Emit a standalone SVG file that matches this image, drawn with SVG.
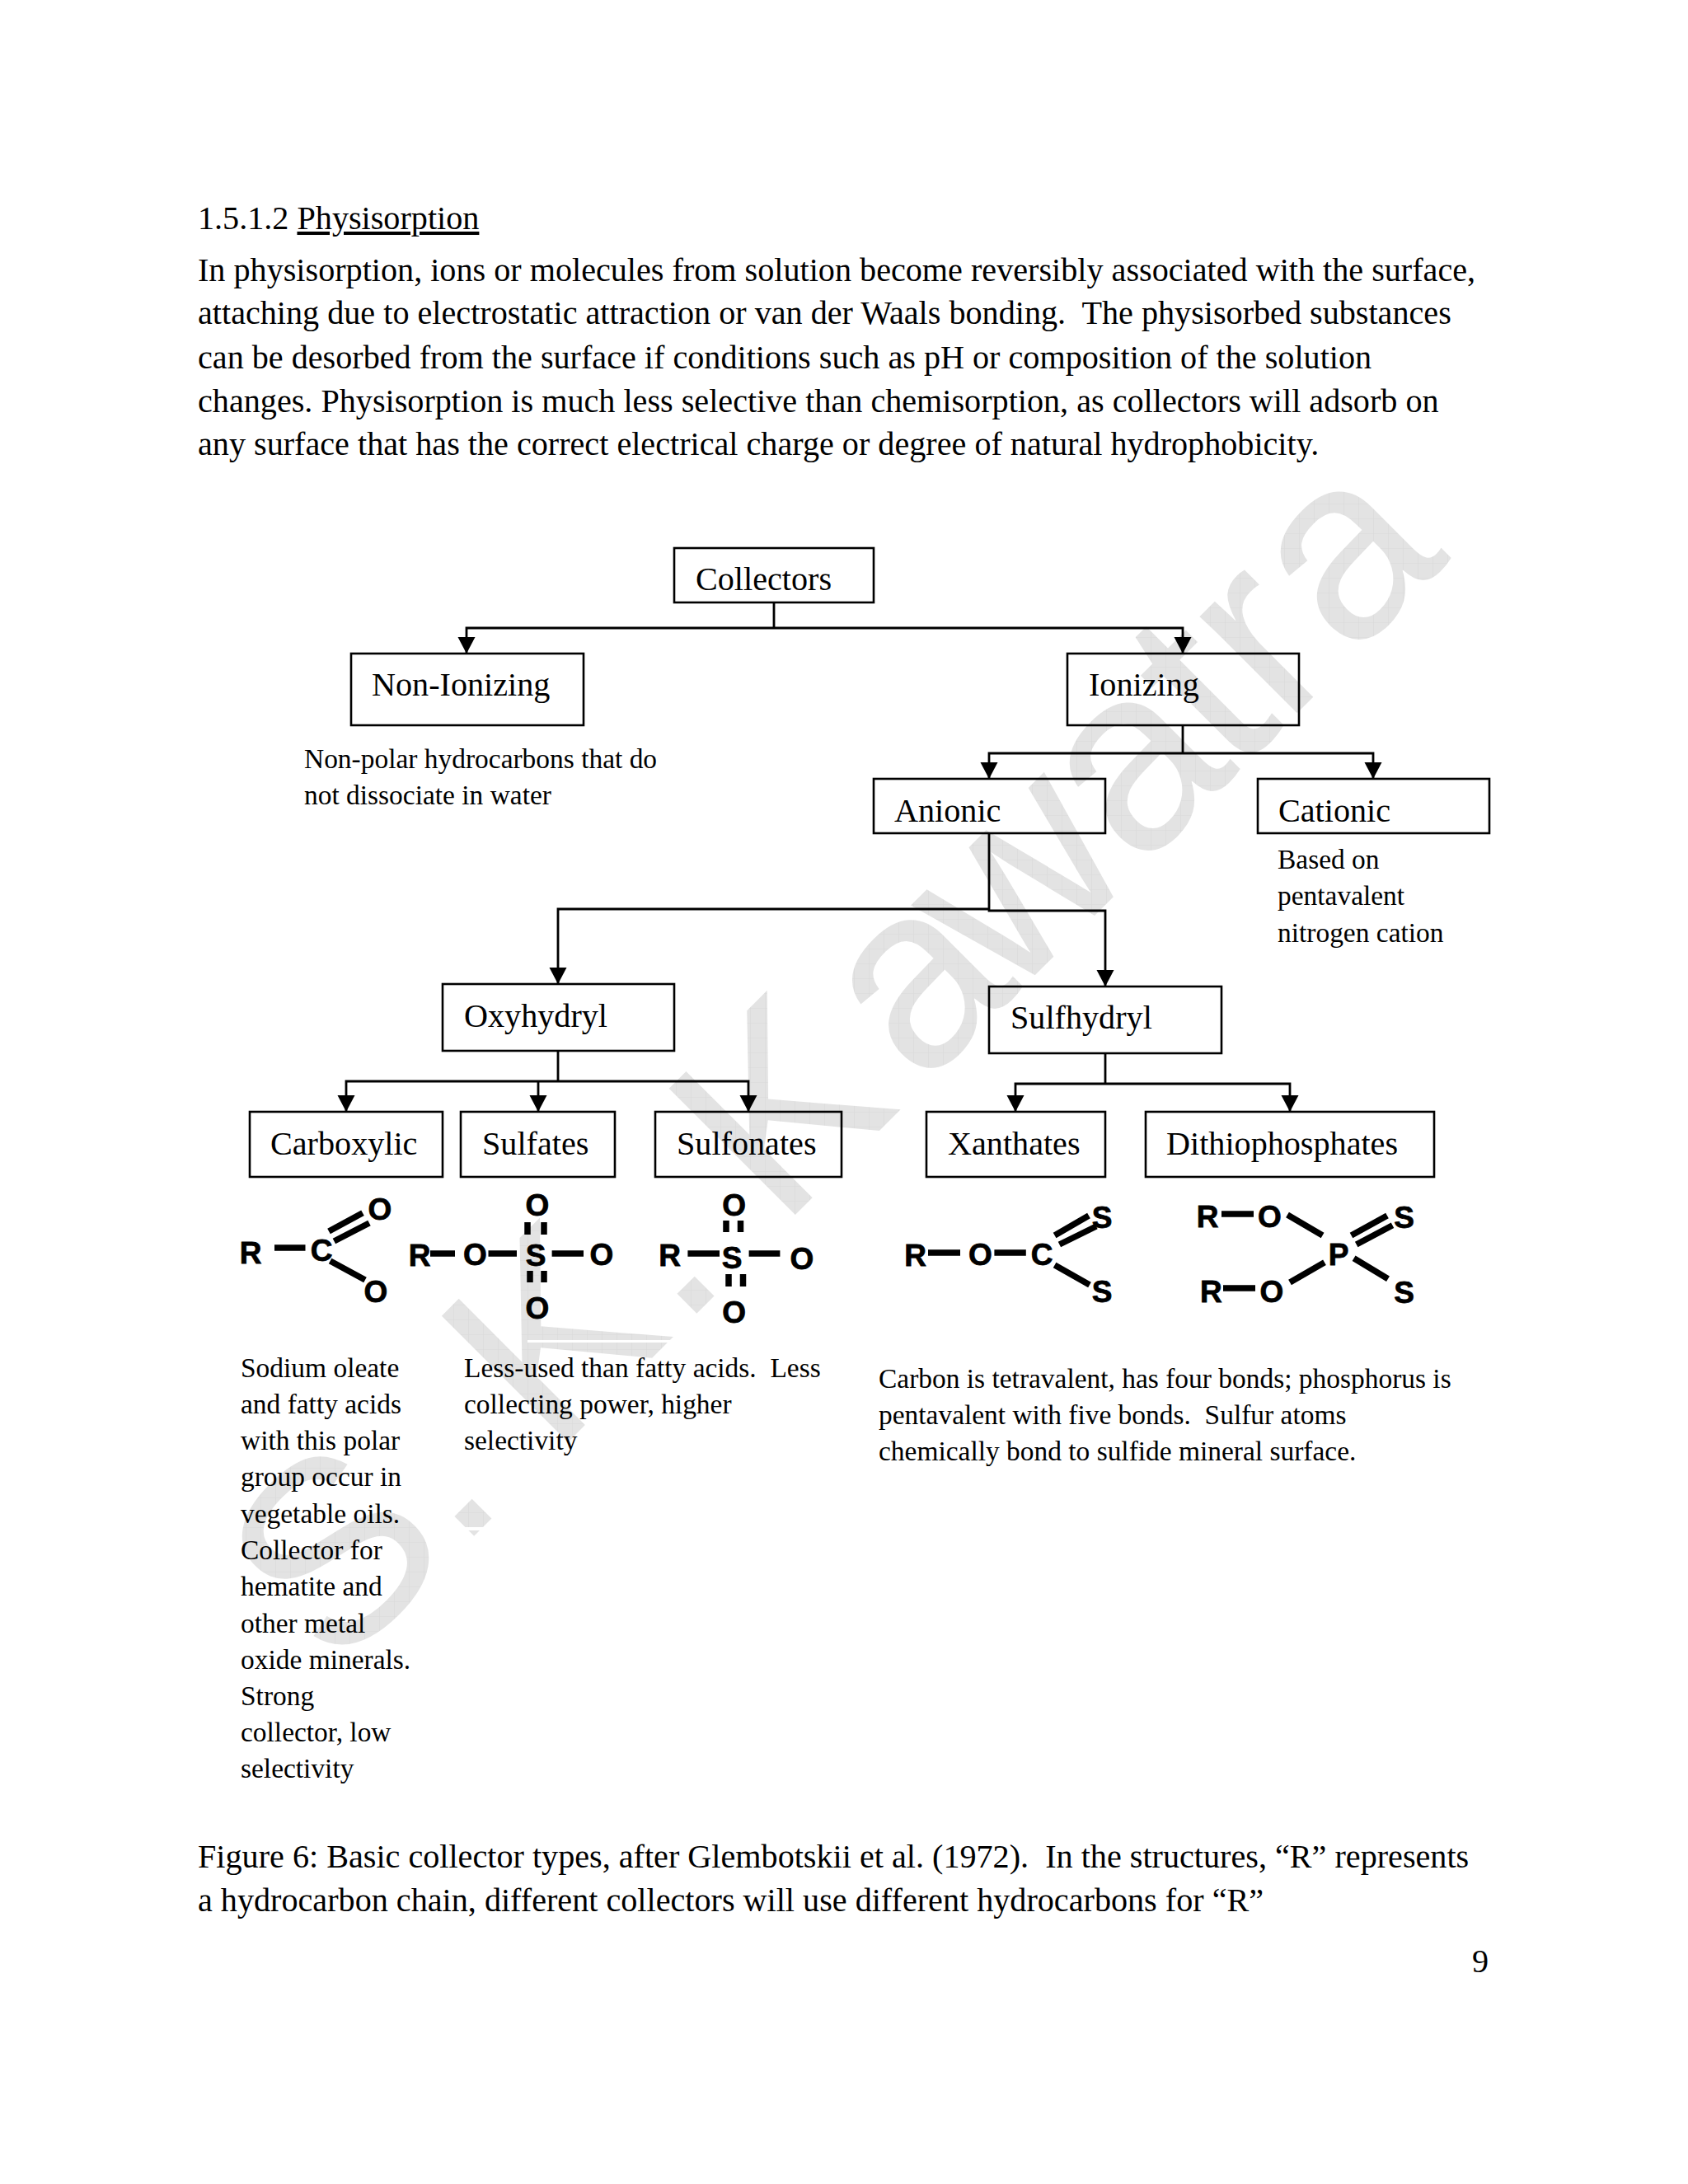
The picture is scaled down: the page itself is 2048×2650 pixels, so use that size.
<svg xmlns="http://www.w3.org/2000/svg" width="2048" height="2650" viewBox="0 0 2048 2650">
<style>
text{font-family:"Liberation Serif","Times New Roman",serif;fill:#000;white-space:pre}
.b{font-size:40.16px}.s{font-size:33.45px}.l{font-size:40.16px}
.c text{font-family:"Liberation Sans",Arial,sans-serif;font-weight:700;font-size:37px;text-anchor:middle;stroke:#000;stroke-width:.8}
.c path{stroke:#000;stroke-width:7.5;fill:none}
.n rect{fill:none;stroke:#000;stroke-width:2.6}
#connectors path{fill:none;stroke:#000;stroke-width:2.8}
#wm text{font-family:"Liberation Sans",Arial,sans-serif;font-size:315px;fill:url(#grid)}
</style>
<defs>
<pattern id="grid" width="18" height="18" patternUnits="userSpaceOnUse" patternTransform="rotate(45)"><rect width="18" height="18" fill="#e3e3e3"/><path d="M0 0H18M0 0V18" stroke="#d9d9d9" stroke-width="1.2"/></pattern>
<marker id="ah" markerUnits="userSpaceOnUse" markerWidth="22" markerHeight="22" refX="20" refY="10.5" orient="auto"><path d="M0 0L20 10.5L0 21Z" fill="#000"/></marker>
</defs>
<rect width="2048" height="2650" fill="#fff"/>
<g id="wm"><text transform="translate(586 1853) rotate(-45)" x="-253 -44 120 338 510 752 901 1125 1290 1375 1487">S.K.Kawatra</text>
<rect x="640" y="1626" width="600" height="3" fill="#fff"/><rect x="540" y="1853" width="70" height="4" fill="#fff"/></g>
<g id="body">
<text class="b" x="240" y="278">1.5.1.2 <tspan text-decoration="underline">Physisorption</tspan></text>
<text class="b" x="240" y="341">In physisorption, ions or molecules from solution become reversibly associated with the surface,</text>
<text class="b" x="240" y="393">attaching due to electrostatic attraction or van der Waals bonding.  The physisorbed substances</text>
<text class="b" x="240" y="446.500">can be desorbed from the surface if conditions such as pH or composition of the solution</text>
<text class="b" x="240" y="499.500">changes. Physisorption is much less selective than chemisorption, as collectors will adsorb on</text>
<text class="b" x="240" y="552">any surface that has the correct electrical charge or degree of natural hydrophobicity.</text>
<text class="b" x="240" y="2266">Figure 6: Basic collector types, after Glembotskii et al. (1972).  In the structures, “R” represents</text>
<text class="b" x="240" y="2319">a hydrocarbon chain, different collectors will use different hydrocarbons for “R”</text>
<text class="b" x="1786" y="2393">9</text>
</g>
<g id="connectors">
<path d="M939 731V762"/><path d="M939 762H566V793" marker-end="url(#ah)"/><path d="M939 762H1435V793" marker-end="url(#ah)"/>
<path d="M1435 881V914"/><path d="M1435 914H1200V945" marker-end="url(#ah)"/><path d="M1435 914H1666V945" marker-end="url(#ah)"/>
<path d="M1200 1011V1103"/><path d="M1200 1103H677V1194" marker-end="url(#ah)"/><path d="M1200 1103V1105H1341V1197" marker-end="url(#ah)"/>
<path d="M677 1275V1312"/><path d="M677 1312H420V1349" marker-end="url(#ah)"/><path d="M653 1312V1349" marker-end="url(#ah)"/><path d="M677 1312H908V1349" marker-end="url(#ah)"/>
<path d="M1341 1278V1315"/><path d="M1341 1315H1232V1349" marker-end="url(#ah)"/><path d="M1341 1315H1565V1349" marker-end="url(#ah)"/>
</g>
<g id="collectors" class="n"><rect x="818" y="665" width="242" height="66"/><text class="l" x="844" y="716">Collectors</text></g>
<g id="non-ionizing" class="n"><rect x="426" y="793" width="282" height="87"/><text class="l" x="451" y="844">Non-Ionizing</text><text class="s" x="369" y="932">Non-polar hydrocarbons that do</text><text class="s" x="369" y="976">not dissociate in water</text></g>
<g id="ionizing" class="n"><rect x="1295" y="793" width="281" height="87"/><text class="l" x="1321" y="844">Ionizing</text></g>
<g id="anionic" class="n"><rect x="1060" y="945" width="281" height="66"/><text class="l" x="1085" y="997">Anionic</text></g>
<g id="cationic" class="n"><rect x="1526" y="945" width="281" height="66"/><text class="l" x="1551" y="997">Cationic</text><text class="s" x="1550" y="1054">Based on</text><text class="s" x="1550" y="1098">pentavalent</text><text class="s" x="1550" y="1143">nitrogen cation</text></g>
<g id="oxyhydryl" class="n"><rect x="537" y="1194" width="281" height="81"/><text class="l" x="563" y="1246">Oxyhydryl</text></g>
<g id="sulfhydryl" class="n"><rect x="1200" y="1197" width="282" height="81"/><text class="l" x="1226" y="1248">Sulfhydryl</text></g>
<g id="carboxylic" class="n"><rect x="303" y="1349" width="234" height="79"/><text class="l" x="328" y="1401">Carboxylic</text></g>
<g id="sulfates" class="n"><rect x="559" y="1349" width="187" height="79"/><text class="l" x="585" y="1401">Sulfates</text></g>
<g id="sulfonates" class="n"><rect x="795" y="1349" width="226" height="79"/><text class="l" x="821" y="1401">Sulfonates</text></g>
<g id="xanthates" class="n"><rect x="1124" y="1349" width="217" height="79"/><text class="l" x="1150" y="1401">Xanthates</text></g>
<g id="dithiophosphates" class="n"><rect x="1390" y="1349" width="350" height="79"/><text class="l" x="1415" y="1401">Dithiophosphates</text></g>
<g id="carboxylic-structure" class="c">
<text x="304" y="1533">R</text><text x="390" y="1530">C</text><text x="461" y="1480">O</text><text x="456" y="1580">O</text>
<path d="M333 1514H370.5M399 1494L440 1471.7M405.4 1506L448 1484M400.6 1530L443 1553"/></g>
<g id="sulfates-structure" class="c">
<text x="509" y="1536">R</text><text x="576.5" y="1535">O</text><text x="650" y="1536">S</text><text x="730" y="1535">O</text><text x="652" y="1475">O</text><text x="652" y="1600">O</text>
<path d="M522 1521H552M592.5 1521H627M669.6 1521H708M640 1483V1498M660 1483V1498M643 1542V1556M660 1542V1556"/></g>
<g id="sulfonates-structure" class="c">
<text x="812.6" y="1536">R</text><text x="888" y="1539">S</text><text x="973" y="1540">O</text><text x="890.6" y="1475">O</text><text x="890.6" y="1605">O</text>
<path d="M834.4 1521H873M908.6 1521H946.4M881 1481V1495M898.5 1481V1495M884 1546V1561M901.5 1546V1561"/></g>
<g id="xanthates-structure" class="c">
<text x="1110.5" y="1536">R</text><text x="1189.5" y="1535">O</text><text x="1264" y="1535">C</text><text x="1337" y="1490">S</text><text x="1337" y="1580">S</text>
<path d="M1126 1520H1165M1206.4 1520H1244.8M1279.6 1499L1321 1475M1285.4 1510L1330 1488M1279.6 1535L1322 1559"/></g>
<g id="dithiophosphates-structure" class="c">
<text x="1465" y="1489">R</text><text x="1540.4" y="1489">O</text><text x="1624" y="1535">P</text><text x="1703.7" y="1490">S</text><text x="1703.7" y="1581">S</text><text x="1469.4" y="1580">R</text><text x="1543" y="1580">O</text>
<path d="M1482 1473H1521M1562 1474L1604.6 1499M1639.5 1499L1683 1475M1645.7 1510L1689.5 1486.7M1642.6 1526.7L1684 1551.7M1607 1531.7L1565 1556M1484 1563H1523"/></g>
<g id="notes">
<text class="s" x="292" y="1671">Sodium oleate</text><text class="s" x="292" y="1715">and fatty acids</text><text class="s" x="292" y="1759">with this polar</text><text class="s" x="292" y="1803">group occur in</text><text class="s" x="292" y="1848">vegetable oils.</text><text class="s" x="292" y="1892">Collector for</text><text class="s" x="292" y="1936">hematite and</text><text class="s" x="292" y="1981">other metal</text><text class="s" x="292" y="2025">oxide minerals.</text><text class="s" x="292" y="2069">Strong</text><text class="s" x="292" y="2113">collector, low</text><text class="s" x="292" y="2157">selectivity</text>
<text class="s" x="563" y="1671">Less-used than fatty acids.  Less</text><text class="s" x="563" y="1715">collecting power, higher</text><text class="s" x="563" y="1759">selectivity</text>
<text class="s" x="1066" y="1684">Carbon is tetravalent, has four bonds; phosphorus is</text><text class="s" x="1066" y="1728">pentavalent with five bonds.  Sulfur atoms</text><text class="s" x="1066" y="1772">chemically bond to sulfide mineral surface.</text>
</g>
</svg>
